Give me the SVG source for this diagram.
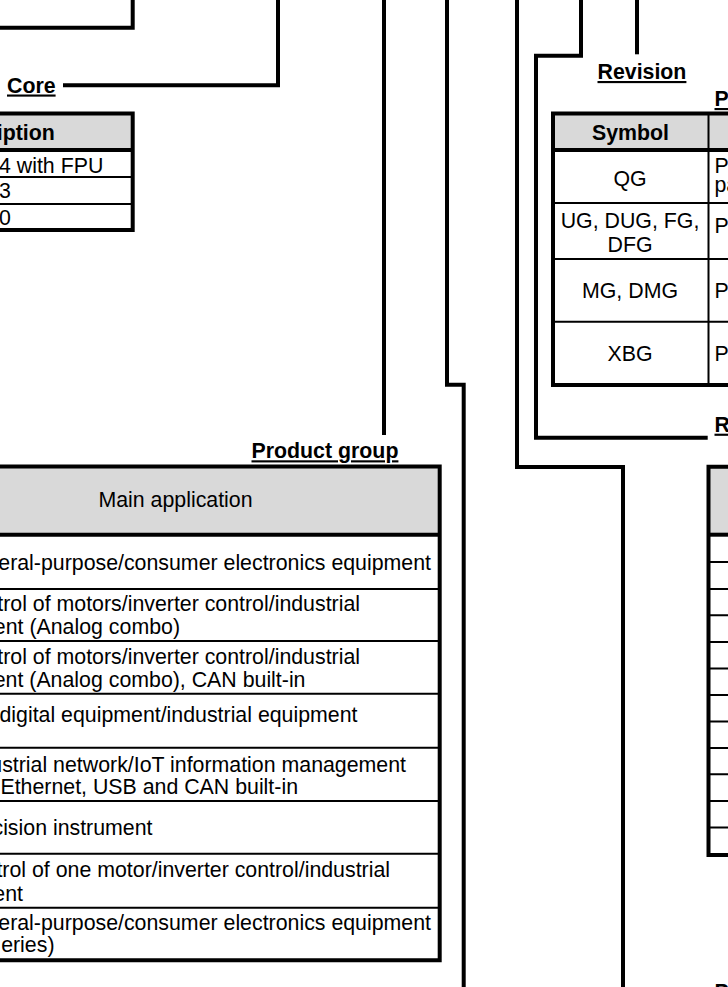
<svg xmlns="http://www.w3.org/2000/svg" width="728" height="987" viewBox="0 0 728 987">
<style>
  .lbl { font-family: "Liberation Sans", Arial, sans-serif; font-size: 21.33px; font-weight: bold; text-decoration: underline; fill: #000; }
  .t { font-family: "Liberation Sans", Arial, sans-serif; font-size: 21.33px; fill: #000; }
  .b { font-weight: bold; }
  .m { text-anchor: middle; }
  .e { text-anchor: end; }
  .hdr { fill: #d9d9d9; stroke: none; }
  .bd { fill: none; stroke: #000; stroke-width: 4; stroke-linejoin: miter; }
  .thin { fill: none; stroke: #000; stroke-width: 2; }
  .wire { fill: none; stroke: #000; stroke-width: 4; stroke-linejoin: miter; stroke-linecap: butt; }
</style>
<rect x="0" y="0" width="728" height="987" fill="#fff"/>

<g id="connectors">
  <path class="wire" d="M-5,27.8 H132.7 V-5"/>
  <path class="wire" d="M63,85.3 H278 V-5"/>
  <path class="wire" d="M384,-5 V435"/>
  <path class="wire" d="M447,-5 V384.7 H463.7 V992"/>
  <path class="wire" d="M517,-5 V467 H623 V992"/>
  <path class="wire" d="M581,-5 V55.8 H536 V437.7 H707.7"/>
  <path class="wire" d="M637,-5 V54.3"/>
</g>

<g id="core-label">
  <text class="lbl" x="7" y="92.5">Core</text>
</g>

<g id="core-table">
  <rect class="hdr" x="-10" y="113.5" width="142.7" height="36.5"/>
  <path class="thin" d="M-10,177 H132.7 M-10,204 H132.7"/>
  <path class="bd" d="M-10,150 H132.7"/>
  <path class="bd" d="M-10,113.5 H132.7 V230 H-10"/>
  <text class="t b e" x="54.8" y="140">Description</text>
  <text class="t" x="-1" y="172.7">4 with FPU</text>
  <text class="t" x="-1" y="198.3">3</text>
  <text class="t" x="-1" y="225">0</text>
</g>

<g id="revision-label">
  <text class="lbl" x="597.5" y="79">Revision</text>
</g>

<g id="package-label">
  <text class="lbl" x="714.5" y="106">P</text>
</g>

<g id="package-table">
  <rect class="hdr" x="553" y="113.5" width="190" height="36.5"/>
  <path class="thin" d="M553,203 H740 M553,259 H740 M553,321.7 H740 M708.5,113.5 V385"/>
  <path class="bd" d="M553,150 H740"/>
  <path class="bd" d="M740,113.5 H553 V385 H740"/>
  <text class="t b m" x="630.5" y="140">Symbol</text>
  <text class="t m" x="630" y="185.5">QG</text>
  <text class="t m" x="630" y="228">UG, DUG, FG,</text>
  <text class="t m" x="630" y="251.5">DFG</text>
  <text class="t m" x="630" y="298">MG, DMG</text>
  <text class="t m" x="630" y="361">XBG</text>
  <text class="t" x="714.5" y="173.3">P</text>
  <text class="t" x="714.5" y="192.3">pa</text>
  <text class="t" x="714.5" y="233.3">P</text>
  <text class="t" x="714.5" y="298">P</text>
  <text class="t" x="714.5" y="361">P</text>
</g>

<g id="r-label">
  <text class="lbl" x="714.5" y="431.7">R</text>
</g>

<g id="r-table">
  <rect class="hdr" x="708.5" y="466.7" width="35" height="68"/>
  <path class="thin" d="M708.5,562 H740 M708.5,589 H740 M708.5,615.3 H740 M708.5,642 H740 M708.5,668.5 H740 M708.5,695 H740 M708.5,721.5 H740 M708.5,748 H740 M708.5,774.3 H740 M708.5,801 H740 M708.5,827.5 H740"/>
  <path class="bd" d="M708.5,534.7 H740"/>
  <path class="bd" d="M740,466.7 H708.5 V855 H740"/>
</g>

<g id="product-group-label">
  <text class="lbl" x="251.5" y="458.3">Product group</text>
</g>

<g id="product-group-table">
  <rect class="hdr" x="-10" y="466.5" width="449.7" height="68.2"/>
  <path class="thin" d="M-10,589 H439.7 M-10,641 H439.7 M-10,693.7 H439.7 M-10,747.7 H439.7 M-10,801 H439.7 M-10,853.7 H439.7 M-10,907.7 H439.7"/>
  <path class="bd" d="M-10,534.7 H439.7"/>
  <path class="bd" d="M-10,466.5 H439.7 V960.3 H-10"/>
  <text class="t m" x="175.5" y="507">Main application</text>
  <text class="t e" x="431" y="570">eral-purpose/consumer electronics equipment</text>
  <text class="t e" x="360" y="611">trol of motors/inverter control/industrial</text>
  <text class="t e" x="180" y="633.5">ent (Analog combo)</text>
  <text class="t e" x="360" y="663.5">trol of motors/inverter control/industrial</text>
  <text class="t e" x="305.5" y="686.5">ent (Analog combo), CAN built-in</text>
  <text class="t e" x="357.5" y="721.5">digital equipment/industrial equipment</text>
  <text class="t e" x="406" y="771.5">ustrial network/IoT information management</text>
  <text class="t e" x="298" y="793.5">Ethernet, USB and CAN built-in</text>
  <text class="t e" x="152.5" y="835">cision instrument</text>
  <text class="t e" x="390" y="877">trol of one motor/inverter control/industrial</text>
  <text class="t e" x="23" y="901">ent</text>
  <text class="t e" x="431" y="930">eral-purpose/consumer electronics equipment</text>
  <text class="t e" x="54.5" y="951.5">eries)</text>
</g>

<g id="bottom-label">
  <text class="lbl" x="714.5" y="999">P</text>
</g>
</svg>
